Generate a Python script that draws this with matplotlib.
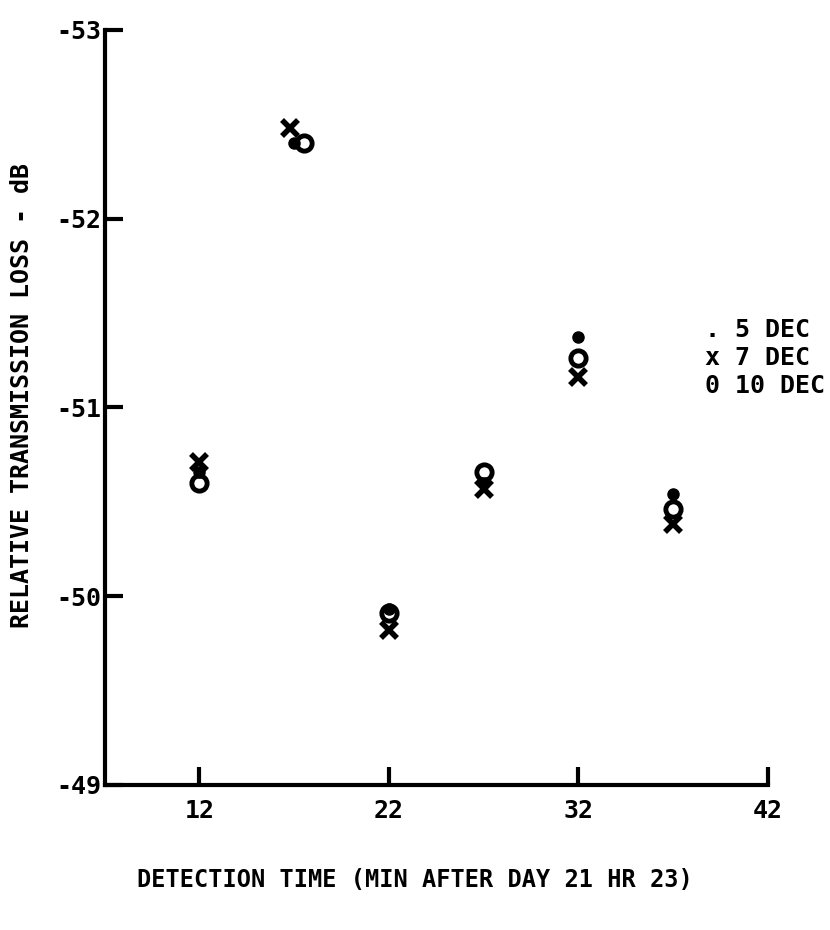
import matplotlib.pyplot as plt

plt.rcParams['font.family'] = ['DejaVu Sans Mono', 'DejaVu Sans']
plt.rcParams['font.weight'] = 'bold'

# detection time (min after day 21 hr 23), one list per date
times5 = [12, 17.0, 22, 27, 32, 37]
times7 = [12, 16.8, 22, 27, 32, 37]
times10 = [12, 17.5, 22, 27, 32, 37]
# relative transmission loss (dB) per date
dec5 = [-50.66, -52.40, -49.93, -50.60, -51.37, -50.54]
dec7 = [-50.71, -52.48, -49.82, -50.57, -51.16, -50.38]
dec10 = [-50.60, -52.40, -49.91, -50.66, -51.26, -50.46]

xticks = [12, 22, 32, 42]
yticks = [-49, -50, -51, -52, -53]

fig = plt.figure(figsize=(8.3, 9.3), dpi=100)
ax = fig.add_axes([0.126, 0.156, 0.799, 0.812])

ax.plot(times10, dec10, 'o', ms=11, mfc='none', mec='black', mew=3.5)
ax.plot(times7, dec7, 'x', ms=11, mec='black', mew=4)
ax.plot(times5, dec5, 'o', ms=8, mfc='black', mec='black')

ax.set_xlim(7, 42)
ax.set_ylim(-49, -53)
ax.set_xticks(xticks)
ax.set_yticks(yticks)
ax.set_yticklabels([str(v) for v in yticks])
ax.tick_params(direction='in', length=13, width=3, labelsize=18, pad=10)
ax.tick_params(axis='y', pad=2)
for s in ['top', 'right']:
    ax.spines[s].set_visible(False)
for s in ['left', 'bottom']:
    ax.spines[s].set_linewidth(3)

fig.text(0.027, 0.575, 'RELATIVE TRANSMISSION LOSS - dB', rotation=90,
         ha='center', va='center', fontsize=18)
fig.text(0.50, 0.054, 'DETECTION TIME (MIN AFTER DAY 21 HR 23)',
         ha='center', va='center', fontsize=17)

fig.text(0.849, 0.615, '. 5 DEC\nx 7 DEC\n0 10 DEC', ha='left', va='center',
         fontsize=18, linespacing=1.2)

fig.savefig('out.png', dpi=100)
